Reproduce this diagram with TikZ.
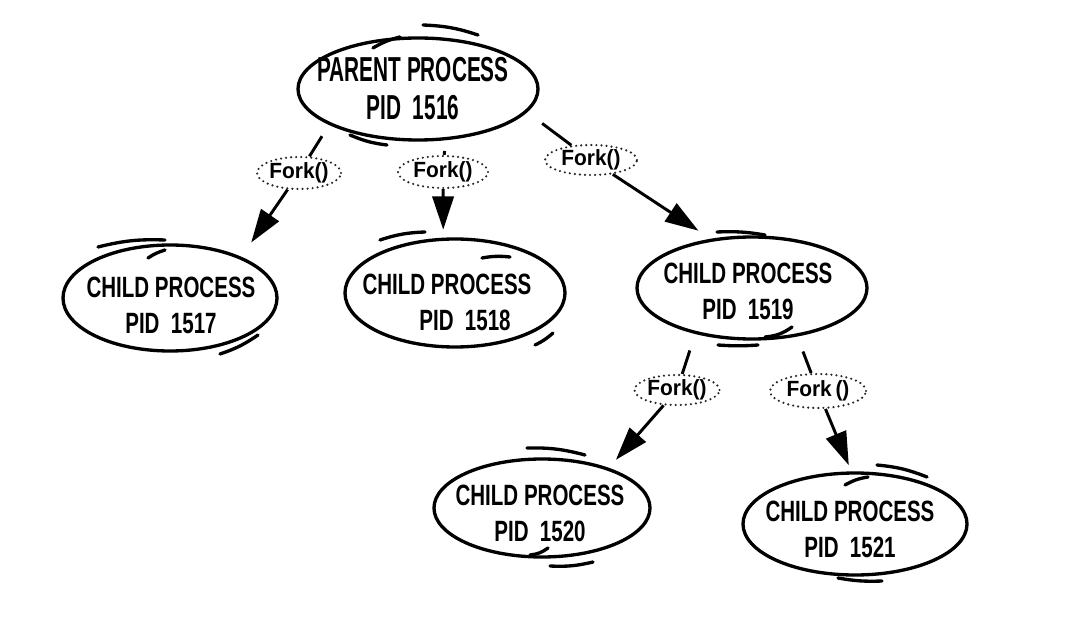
\documentclass[tikz,border=0pt]{standalone}
\usepackage{fontspec}
\usetikzlibrary{arrows.meta,shapes.geometric}
\newfontfamily\parentfont[FakeStretch=0.6]{Liberation Sans}
\newfontfamily\childfont[FakeStretch=0.7]{Liberation Sans}
\newfontfamily\forkfont[FakeStretch=0.95]{Liberation Sans}
\begin{document}
\begin{tikzpicture}[x=0.75pt,y=0.75pt,
  proc/.style 2 args={ellipse, draw, line width=2.5pt, minimum width=#1*0.75pt, minimum height=#2*0.75pt, inner sep=0pt},
  ptext/.style={align=center, font=\childfont\bfseries\fontsize{22}{27}\selectfont, inner sep=0pt},
  partext/.style={align=center, font=\parentfont\bfseries\fontsize{26}{28.5}\selectfont, inner sep=0pt},
  fork/.style 2 args={ellipse, draw=black!85, line width=1.8pt, dash pattern=on 0pt off 3.8pt, line cap=round, fill=white, minimum width=#1*0.75pt, minimum height=#2*0.75pt, inner sep=0pt, font=\forkfont\bfseries\fontsize{16.5}{16.5}\selectfont},
  conn/.style={line width=2.2pt},
  arr/.style={line width=2.2pt, -{Triangle[length=25pt,width=16pt]}},
  accent/.style={line width=2.5pt, line cap=round}]
\fill[white] (0,0) rectangle (1080,618);
\useasboundingbox (0,0) rectangle (1080,618);

% process ellipses
\node[proc={240}{102}] (parent) at (418,529) {};
\node[proc={214}{106}] (c1) at (170,320) {};
\node[proc={220}{108}] (c2) at (455,325) {};
\node[proc={230}{102}] (c3) at (752,330) {};
\node[proc={216}{98}] (c4) at (542,110) {};
\node[proc={224}{102}] (c5) at (855,94) {};

% texts
\node[partext] (ptx) at (413,529) {PARENT PROCESS\\PID~~1516};
\node[ptext] (t1) at (171,313) {CHILD PROCESS\\PID~~1517};
\node[ptext] (t2) at (447,316) {CHILD PROCESS\\\hspace*{27pt}PID~~1518};
\node[ptext] (t3) at (748,326.5) {CHILD PROCESS\\PID~~1519};
\node[ptext] (t4) at (540,105) {CHILD PROCESS\\PID~~1520};
\node[ptext] (t5) at (850,89) {CHILD PROCESS\\PID~~1521};

% fork labels
\node[fork={84}{32}] (f1) at (299,445) {Fork()};
\node[fork={90}{32}] (f2) at (443,446) {Fork()};
\node[fork={92}{30}] (f3) at (591,458) {Fork()};
\node[fork={85}{30}] (f4) at (677,228) {Fork()};
\node[fork={96}{34}] (f5) at (818,227) {Fork\,()};

% connectors
\draw[conn, shorten <=10pt] (parent.202.7) -- (f1);
\draw[arr, shorten >=13pt] (f1) -- (c1.30.1);
\draw[conn, shorten <=8pt] (parent.298.4) -- (f2);
\draw[arr, shorten >=6pt] (f2) -- (c2.102.8);
\draw[conn, shorten <=14pt] (parent.348) -- (f3);
\draw[arr, shorten >=11pt] (f3) -- (c3.130.3);
\draw[conn, shorten <=13pt] (c3.219) -- (f4);
\draw[arr, shorten >=8pt] (f4) -- (c4.31.6);
\draw[conn, shorten <=12pt] (c3.313.4) -- (f5);
\draw[arr, shorten >=5pt] (f5) -- (c5.94.8);

% sketch accents
\begin{scope}[shift={(parent.center)}]
  \draw[accent] (5,64) to[bend left=8] (60,54);
  \draw[accent] (-45,41) to[bend left=8] (-18,52);
  \draw[accent] (-68,-46) to[bend right=8] (-31,-56);
\end{scope}
\begin{scope}[shift={(c1.center)}]
  \draw[accent] (-72,51) to[bend left=8] (-5,58);
  \draw[accent] (-22,40) to[bend left=8] (-5,48);
  \draw[accent] (50,-56) to[bend right=8] (88,-37);
\end{scope}
\begin{scope}[shift={(c2.center)}]
  \draw[accent] (-75,53) to[bend left=8] (-30,61);
  \draw[accent] (27,35) to[bend left=8] (55,36);
  \draw[accent] (80,-52) to[bend right=8] (98,-40);
\end{scope}
\begin{scope}[shift={(c3.center)}]
  \draw[accent] (-35,56) to[bend left=6] (13,53);
  \draw[accent] (-34,-57) to[bend right=4] (6,-57);
  \draw[accent] (40,-39) to[bend left=15] (13,-49);
\end{scope}
\begin{scope}[shift={(c4.center)}]
  \draw[accent] (-15,60) to[bend left=8] (43,53);
  \draw[accent] (8,-58) to[bend right=8] (51,-54);
  \draw[accent] (6,-40) to[bend left=15] (-12,-47);
\end{scope}
\begin{scope}[shift={(c5.center)}]
  \draw[accent] (22,59) to[bend left=8] (72,47);
  \draw[accent] (-10,39) to[bend left=10] (13,47);
  \draw[accent] (-17,-54) to[bend right=6] (27,-57);
\end{scope}
\end{tikzpicture}
\end{document}
